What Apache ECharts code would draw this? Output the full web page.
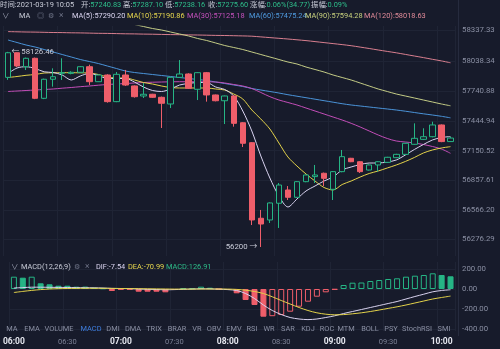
<!DOCTYPE html>
<html><head><meta charset="utf-8">
<script src="https://cdn.jsdelivr.net/npm/echarts@6/dist/echarts.min.js"></script>
<style>html,body{margin:0;padding:0;background:#171b2b;overflow:hidden}#c{width:500px;height:349px}</style>
</head><body><div id="c"></div><script>
const times = ["06:00","06:05","06:10","06:15","06:20","06:25","06:30","06:35","06:40","06:45","06:50","06:55",
"07:00","07:05","07:10","07:15","07:20","07:25","07:30","07:35","07:40","07:45","07:50","07:55",
"08:00","08:05","08:10","08:15","08:20","08:25","08:30","08:35","08:40","08:45","08:50","08:55",
"09:00","09:05","09:10","09:15","09:20","09:25","09:30","09:35","09:40","09:45","09:50","09:55",
"10:00","10:05"];
const opens  = [57875,58118,57980,58063,57668,57856,57915,57914,57925,57980,57832,57898,57635,57898,57790,57691,57708,57678,57612,57875,57908,57757,57921,57701,57644,57691,57427,57230,56484,56467,56632,56763,56691,56845,56895,56928,56770,56944,57076,57042,56960,57010,57036,57082,57115,57214,57263,57289,57405,57240.83];
const closes = [58118,57987,58063,57668,57856,57881,57921,57925,57980,57832,57898,57635,57905,57799,57684,57708,57678,57619,57875,57908,57767,57921,57701,57644,57691,57421,57224,56467,56427,56635,56812,56691,56845,56911,56911,56878,56944,57092,57042,56944,57010,57042,57086,57115,57224,57273,57289,57405,57240.83,57275.60];
const lows   = [57850,57977,57947,57660,57660,57783,57849,57905,57920,57799,57830,57625,57630,57790,57675,57671,57672,57375,57572,57870,57760,57651,57635,57638,57414,57388,57187,56417,56200,56437,56388,56664,56685,56840,56832,56802,56664,56938,57038,56931,56955,56944,57030,57078,57112,57210,57258,57283,57235,57238.16];
const highs  = [58126.46,58120,58070,58070,57862,57964,58063,57935,57985,58000,57902,57905,57928,57948,57795,57819,57712,57685,57880,58046,57915,57925,57928,57705,57695,57698,57432,57235,56566,56640,56832,56802,56850,56916,57010,56935,56950,57158,57080,57047,57015,57047,57090,57120,57228,57421,57372,57437,57410,57287.10];
const ma5   = [57912.9,57967.2,57980.0,57962.3,57929.6,57922.8,57898.1,57848.7,57888.2,57912.9,57893.2,57863.5,57863.5,57863.5,57829.0,57779.6,57745.1,57735.2,57759.9,57799.4,57814.2,57824.0,57824.0,57779.6,57754.9,57690.8,57542.7,57345.4,57098.5,56881.3,56703.7,56595.4,56674.1,56753.0,56802.4,56851.8,56891.2,56960.3,56990.0,57014.6,57029.4,57029.4,57039.3,57059.0,57108.4,57162.7,57212.0,57256.5,57281.2,57290.20];
const ma10  = [57873.4,57883.3,57895.1,57903.0,57917.8,57919.8,57920.8,57920.8,57919.8,57917.8,57903.0,57878.3,57868.5,57868.5,57848.7,57824.0,57809.2,57789.5,57774.7,57769.8,57769.8,57769.8,57769.8,57759.9,57750.0,57710.5,57661.2,57552.6,57463.7,57365.0,57226.8,57088.6,56999.6,56920.8,56851.5,56787.6,56762.9,56817.1,56851.5,56891.0,56925.9,56950.5,56980.1,57009.8,57044.3,57083.8,57128.3,57157.9,57177.7,57190.86];
const ma30  = [57735.2,57740.1,57745.1,57750.0,57754.9,57759.9,57767.8,57774.7,57782.6,57789.5,57797.5,57804.3,57809.2,57814.2,57819.1,57824.0,57827.0,57829.0,57831.0,57831.9,57831.9,57831.9,57831.0,57829.0,57819.1,57804.3,57789.5,57764.8,57725.4,57683.9,57651.3,57626.7,57602.0,57572.3,57542.7,57513.1,57483.5,57454.0,57421.3,57384.8,57345.4,57305.8,57271.3,57246.6,57236.7,57226.8,57212.0,57192.4,57167.6,57125.18];
const ma60  = [58243.6,58218.9,58194.2,58174.5,58149.8,58125.1,58100.4,58075.8,58051.1,58031.4,58011.6,57986.9,57962.3,57937.6,57922.8,57912.9,57903.0,57893.2,57883.3,57873.4,57863.5,57853.6,57843.8,57829.0,57814.2,57799.4,57784.6,57764.8,57750.0,57735.2,57720.4,57703.6,57688.8,57674.0,57659.2,57644.4,57629.6,57614.8,57602.0,57592.1,57582.2,57572.3,57562.5,57552.6,57540.7,57527.9,57515.1,57503.2,57490.4,57475.24];
const ma90  = [58697.6,58677.9,58658.1,58638.4,58608.8,58589.0,58564.4,58539.7,58520.0,58500.2,58480.5,58460.7,58441.0,58416.3,58396.6,58376.8,58357.1,58342.3,58322.5,58302.8,58283.1,58258.4,58238.7,58214.0,58189.3,58169.6,58149.8,58125.1,58100.4,58075.8,58051.1,58026.4,58006.7,57977.0,57952.4,57927.7,57898.1,57873.4,57848.7,57819.1,57789.5,57759.9,57735.2,57710.5,57690.8,57671.1,57651.3,57631.6,57611.8,57594.28];
const ma120 = [58326.5,58324.5,58322.5,58321.5,58319.6,58317.6,58316.6,58314.6,58313.6,58311.7,58309.7,58308.7,58306.7,58304.8,58303.8,58301.8,58300.8,58298.8,58296.9,58295.9,58293.9,58292.9,58291.0,58289.0,58288.0,58286.0,58284.0,58281.1,58274.2,58267.3,58260.3,58253.4,58245.5,58237.6,58227.8,58217.9,58208.0,58198.2,58187.3,58173.5,58159.7,58144.9,58131.0,58117.2,58101.4,58085.6,58069.8,58053.1,58037.2,58018.63];
const macdHist = [123,113,123,57,47,33,33,23,24,13,7,-20,-7,-5,-27,-27,-27,-33,-10,7,8,23,13,-2,-10,-43,-110,-160,-277,-272,-260,-227,-177,-127,-77,-33,-7,40,63,65,80,90,100,107,123,133,140,157,140,126.91];
const dif = [10,14,18,18,17,16,15,14,13,12,10,6,5,4,0,-3,-5,-8,-6,-3,-1,2,1,-2,-6,-15,-45,-95,-160,-215,-255,-285,-300,-306,-300,-285,-268,-245,-225,-205,-185,-165,-145,-125,-100,-75,-52,-28,-15,-7.54];
const dea = [-35,-24,-14,-6,0,3,5,6,7,7,7,6,5,4,3,2,1,0,-1,-1,-1,0,0,0,-1,-4,-12,-25,-45,-78,-115,-150,-185,-215,-238,-252,-258,-256,-248,-238,-225,-210,-194,-178,-160,-140,-120,-100,-85,-70.99];
const priceTicks = [58337.33,58038.34,57740.88,57444.94,57150.52,56857.61,56566.20,56276.29];
const macdTicks = [200,0,-200,-400];
const tabs = ["MA","EMA","VOLUME","MACD","DMI","DMA","TRIX","BRAR","VR","OBV","EMV","RSI","WR","SAR","KDJ","ROC","MTM","BOLL","PSY","StochRSI","SMI"];
const tabX = [12,32,59,91,113,133,154,177,197,214,234,252,269,288,308,327,346,370,391,417,444];
const maLegend = [["MA(5):57290.20",72,"#dcd6f2"],["MA(10):57190.86",127,"#e8d84e"],["MA(30):57125.18",187,"#c651bd"],["MA(60):57475.24",249,"#4f9be0"],["MA(90):57594.28",305,"#c9d27e"],["MA(120):58018.63",364,"#e08a98"]];

const BG='#171b2b', UP='#26b585', DN='#ef5e6a', GRID='#1f2435', TXT='#8a8fa3', VAL='#2ebd8a', LBL='#c9ccd8';
const FONT='Roboto, "Noto Sans CJK SC", sans-serif';
const FS=7.4;
const L=3.5, W=451.5;
const last = closes.length-1;

const hdrItems = [
  [0,   '时间:', '2021-03-19 '+times[last], LBL],
  [81,  '开:', opens[last].toFixed(2), VAL],
  [123, '高:', highs[last].toFixed(2), VAL],
  [165, '低:', lows[last].toFixed(2), VAL],
  [208, '收:', closes[last].toFixed(2), VAL],
  [250, '涨幅:', '0.06%(34.77)', VAL],
  [311, '振幅:', '0.09%', VAL]
];

const candle = opens.map((o,i)=>[o,closes[i],lows[i],highs[i]]);
const histData = macdHist.map((v,i)=>{
  const col = v>=0?UP:DN;
  const hollow = i===0 ? true : v>macdHist[i-1];
  return {value:v, itemStyle: hollow?{color:BG,borderColor:col,borderWidth:1}:{color:col,borderColor:col,borderWidth:1}};
});

function maLine(name,data,color){return {name,type:'line',data,xAxisIndex:0,yAxisIndex:0,showSymbol:false,symbol:'none',smooth:0.3,lineStyle:{width:1,color},z:3,silent:true};}
function txt(x,y,text,fill,size,extra){return Object.assign({type:'text', x, y, z:10, silent:true, style:Object.assign({text, fill, font:(size||FS)+'px '+FONT, verticalAlign:'middle'}, extra||{})});}

const graphics = [
  {type:'line', shape:{x1:458.5,y1:0,x2:458.5,y2:336}, style:{stroke:'#262b3e',lineWidth:1}, z:1, silent:true}
];
hdrItems.forEach(h=>graphics.push({type:'text', x:h[0], y:5, z:10, silent:true,
  style:{text:'{w|'+h[1]+'}{g|'+h[2]+'}', verticalAlign:'middle', font:FS+'px '+FONT,
    rich:{w:{fill:LBL,fontSize:FS,fontFamily:FONT},g:{fill:h[3],fontSize:FS,fontFamily:FONT}}}}));
graphics.push(txt(2,16,'∨','#9ca0b2'));
graphics.push(txt(19,16,'MA',LBL));
graphics.push(txt(37,16,'◎','#6f7488'));
graphics.push(txt(48,16,'⚙','#6f7488'));
graphics.push(txt(59,16,'×','#6f7488',8.5));
maLegend.forEach(m=>graphics.push(txt(m[1],16,m[0],m[2])));
graphics.push(txt(11,267,'∨','#9ca0b2'));
graphics.push(txt(21,267,'MACD(12,26,9)',LBL));
graphics.push(txt(74,267,'⚙','#6f7488'));
graphics.push(txt(85,267,'×','#6f7488',8.5));
graphics.push(txt(96,267,'DIF:'+dif[last].toFixed(2),'#dcd6f2'));
graphics.push(txt(128,267,'DEA:'+dea[last].toFixed(2),'#e8d84e'));
graphics.push(txt(166,267,'MACD:'+macdHist[last].toFixed(2),VAL));
tabs.forEach((t,i)=>graphics.push(txt(tabX[i],329,t,t==='MACD'?'#3f7fe0':'#8a8fa3',FS,{align:'center'})));

const chart = echarts.init(document.getElementById('c'), null, {renderer:'canvas'});
chart.setOption({
  backgroundColor: BG,
  animation:false,
  textStyle:{fontFamily:FONT},
  grid:[{left:L, width:W, top:26, height:230},{left:L, width:W, top:262, height:69}],
  xAxis:[
    {type:'category', gridIndex:0, data:times, axisLine:{show:false}, axisTick:{show:false}, axisLabel:{show:false},
     splitLine:{show:true, interval:5, lineStyle:{color:GRID}}},
    {type:'category', gridIndex:1, data:times, axisLine:{show:false}, axisTick:{show:false},
     splitLine:{show:true, interval:5, lineStyle:{color:GRID}},
     axisLabel:{interval:5, margin:7, formatter:(v,i)=> (i%12===0?'{b|'+v+'}':'{n|'+v+'}'),
       rich:{b:{color:'#e4e6ee',fontWeight:'bold',fontSize:8.5,fontFamily:FONT},n:{color:'#7d8296',fontSize:7.5,fontFamily:FONT}}}}
  ],
  yAxis:[
    {type:'value', gridIndex:0, position:'right', offset:3, min:56111.4, max:58381.8, scale:true,
     axisLine:{show:false}, axisTick:{show:false, customValues:priceTicks},
     splitLine:{show:true, lineStyle:{color:GRID}},
     axisLabel:{customValues:priceTicks, formatter:v=>v.toFixed(2), color:TXT, fontSize:7.8, margin:4}},
    {type:'value', gridIndex:1, position:'right', offset:3, min:-420, max:270,
     axisLine:{show:false}, axisTick:{show:false, customValues:macdTicks},
     splitLine:{show:true, lineStyle:{color:GRID}},
     axisLabel:{customValues:macdTicks, formatter:v=>v.toFixed(2), color:TXT, fontSize:7.8, margin:4}}
  ],
  graphic: graphics,
  series:[
    maLine('MA120',ma120,'#d97f8f'),
    maLine('MA90',ma90,'#c4cc86'),
    maLine('MA60',ma60,'#4a93d8'),
    maLine('MA30',ma30,'#c24db7'),
    maLine('MA10',ma10,'#e3d24a'),
    maLine('MA5',ma5,'#d8d2ef'),
    {name:'K', type:'candlestick', xAxisIndex:0, yAxisIndex:0, data:candle, barWidth:6, z:5,
     itemStyle:{color:BG, color0:DN, borderColor:UP, borderColor0:DN, borderWidth:1},
     markPoint:{symbol:'circle', symbolSize:1, itemStyle:{color:'rgba(0,0,0,0)'}, animation:false,
       data:[
         {type:'max', valueDim:'highest', label:{position:'right', distance:3, formatter:p=>'← '+p.value, color:LBL, fontSize:7.8}},
         {type:'min', valueDim:'lowest', label:{position:'left', distance:3, formatter:p=>p.value+' →', color:LBL, fontSize:7.8}}
       ]},
     markLine:{symbol:'none', silent:true, animation:false, lineStyle:{width:0, opacity:0},
       data:[{yAxis: closes[last]}],
       label:{position:'end', distance:3, formatter:()=>closes[last].toFixed(2), color:'#ffffff', backgroundColor:'#1fae7a', padding:[3,4,2,4], fontSize:8.5, fontWeight:'bold'}}
    },
    {name:'MACD', type:'bar', xAxisIndex:1, yAxisIndex:1, data:histData, barWidth:6, z:2},
    {name:'DIF', type:'line', xAxisIndex:1, yAxisIndex:1, data:dif, showSymbol:false, symbol:'none', smooth:0.3, lineStyle:{width:1,color:'#d8d2ef'}, z:3},
    {name:'DEA', type:'line', xAxisIndex:1, yAxisIndex:1, data:dea, showSymbol:false, symbol:'none', smooth:0.3, lineStyle:{width:1,color:'#e3d24a'}, z:3}
  ]
});
</script></body></html>
